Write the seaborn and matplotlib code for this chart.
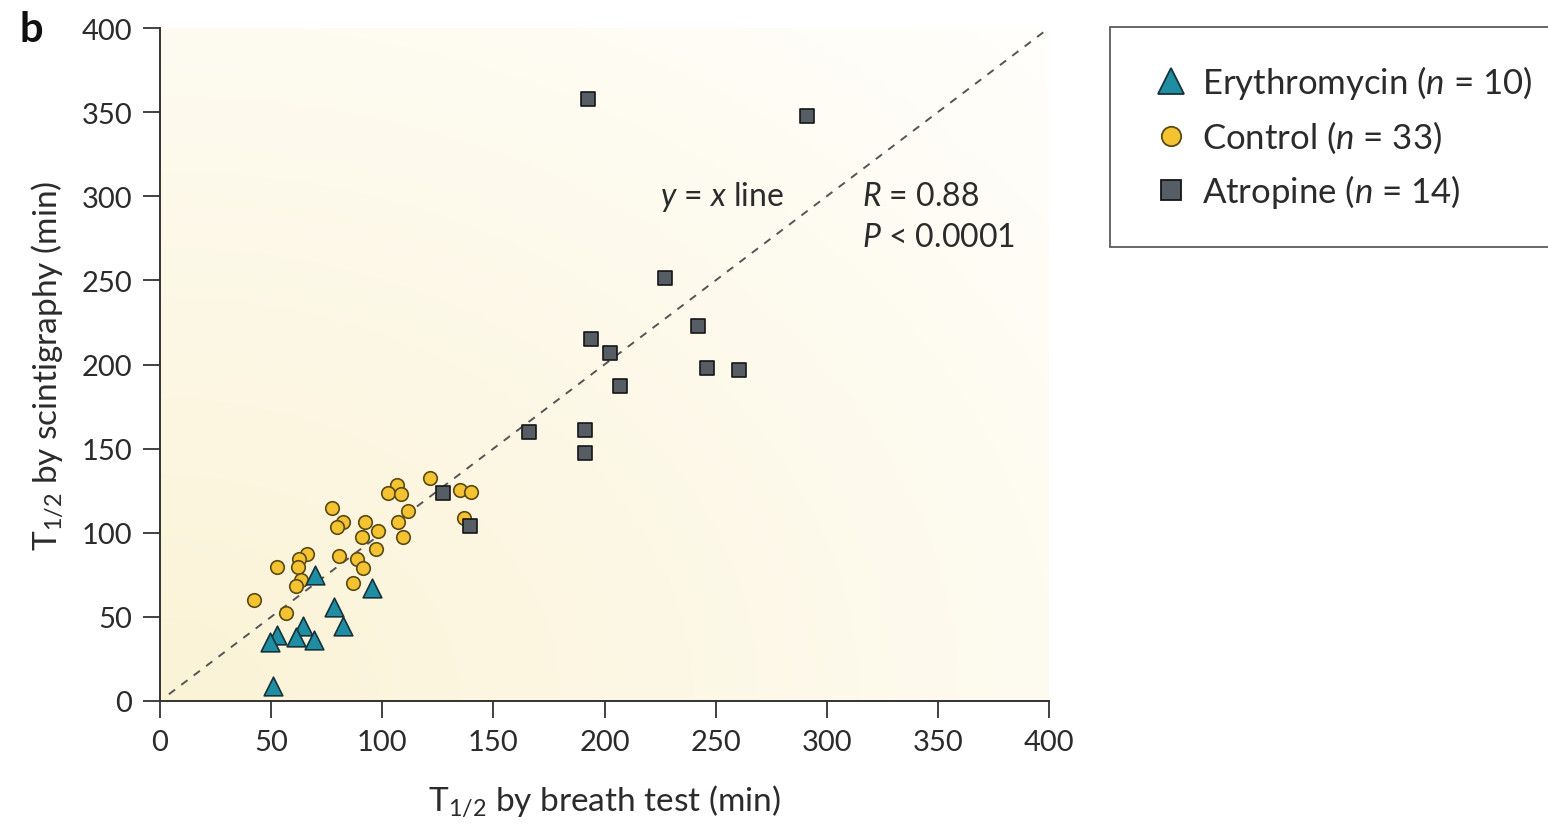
import numpy as np
import pandas as pd
import matplotlib
matplotlib.use("Agg")
import matplotlib.pyplot as plt
import seaborn as sns

# ---- data ----
ery_x = [69.7, 95.2, 78.3, 82.2, 64.2, 52.8, 49.5, 61.0, 69.3, 51.0]
ery_y = [74.9, 67.0, 56.1, 44.8, 44.8, 39.4, 34.9, 37.8, 36.3, 9.1]

ctl_x = [121.5, 106.5, 102.7, 108.3, 135.0, 139.8, 136.9, 77.2, 82.5, 79.8,
         92.2, 111.7, 107.2, 98.2, 91.0, 109.5, 97.0, 66.0, 62.7, 52.8,
         62.2, 80.7, 88.5, 91.5, 63.3, 61.0, 86.7, 42.3, 56.7]
ctl_y = [132.4, 128.4, 123.6, 123.0, 125.6, 124.4, 108.8, 114.5, 106.2, 103.2,
         106.6, 113.1, 106.6, 101.0, 97.3, 97.3, 90.3, 87.4, 84.4, 79.8,
         79.4, 86.4, 84.4, 79.0, 71.9, 68.2, 70.1, 60.0, 52.3]

atr_x = [192.7, 291.0, 227.2, 241.9, 193.9, 202.5, 246.3, 260.5, 207.0, 166.2,
         191.2, 191.2, 127.2, 139.5]
atr_y = [357.8, 347.9, 251.4, 223.1, 215.2, 206.8, 197.7, 196.7, 187.4, 159.7,
         161.3, 147.2, 123.6, 104.2]

groups = ["Erythromycin", "Control", "Atropine"]
counts = [10, 33, 14]
ticks = [0, 50, 100, 150, 200, 250, 300, 350, 400]

# ---- style ----
sns.set_style("ticks")
plt.rcParams["font.family"] = ["Lato", "DejaVu Sans"]
plt.rcParams["mathtext.fontset"] = "custom"
plt.rcParams["mathtext.rm"] = "Lato"
plt.rcParams["mathtext.it"] = "Lato:italic"
plt.rcParams["mathtext.bf"] = "Lato:bold"

txt = "#2b2b2b"
fig = plt.figure(figsize=(15.48, 8.29), dpi=100)
ax = fig.add_axes([160 / 1548, 1 - 702 / 829, 889 / 1548, 673 / 829])

# background gradient (light yellow at lower-left fading to white)
gx, gy = np.meshgrid(np.linspace(0, 1, 300), np.linspace(0, 1, 300))
d = np.clip(np.sqrt(gx ** 2 + gy ** 2) / 1.35, 0, 1)
c0 = np.array([251, 243, 214]) / 255.0
c1 = np.array([255, 254, 250]) / 255.0
img = c0[None, None, :] * (1 - d[..., None]) + c1[None, None, :] * d[..., None]
ax.imshow(img, extent=[0, 400, 0, 400], origin="lower", aspect="auto", zorder=0)

# y = x line
ax.plot([4, 400], [4, 400], ls=(0, (4, 4)), color="#555555", lw=1.4, zorder=1)

df = pd.concat([
    pd.DataFrame({"x": ery_x, "y": ery_y, "g": groups[0]}),
    pd.DataFrame({"x": ctl_x, "y": ctl_y, "g": groups[1]}),
    pd.DataFrame({"x": atr_x, "y": atr_y, "g": groups[2]}),
])

styles = {
    "Erythromycin": dict(marker="^", s=180, color="#1f8ea3", edgecolor="#17323a", lm=19),
    "Control": dict(marker="o", s=95, color="#f5c331", edgecolor="#5a4a14", lm=14),
    "Atropine": dict(marker="s", s=105, color="#565d65", edgecolor="#141618", lm=15),
}
order = ["Control", "Erythromycin", "Atropine"]
handles = {}
for g in order:
    sub = df[df.g == g]
    st = styles[g]
    sns.scatterplot(data=sub, x="x", y="y", ax=ax, marker=st["marker"], s=st["s"],
                    color=st["color"], edgecolor=st["edgecolor"], linewidth=1.2,
                    zorder=3, legend=False)
    handles[g] = plt.Line2D([], [], ls="none", marker=st["marker"],
                            markersize=st["lm"],
                            markerfacecolor=st["color"], markeredgecolor=st["edgecolor"],
                            markeredgewidth=1.3)

ax.set_xlim(0, 400)
ax.set_ylim(0, 400)
ax.set_xticks(ticks)
ax.set_yticks(ticks)
ax.tick_params(direction="out", length=12, width=1.3, color="#333333",
               labelsize=21, labelcolor=txt, pad=8)
for side in ["top", "right"]:
    ax.spines[side].set_visible(False)
for side in ["left", "bottom"]:
    ax.spines[side].set_color("#333333")
    ax.spines[side].set_linewidth(1.4)

ax.set_xlabel(r"T$_{1/2}$ by breath test (min)", fontsize=24, color=txt, labelpad=20)
ax.set_ylabel(r"T$_{1/2}$ by scintigraphy (min)", fontsize=24, color=txt, labelpad=12)

ax.text(225, 300, r"$\mathit{y}$ = $\mathit{x}$ line", fontsize=23, color=txt,
        va="center", ha="left")
ax.text(316, 300, r"$\mathit{R}$ = 0.88", fontsize=23, color=txt, va="center", ha="left")
ax.text(316, 276, r"$\mathit{P}$ < 0.0001", fontsize=23, color=txt, va="center", ha="left")

fig.text(20 / 1548, 1 - 30 / 829, "b", fontsize=30, fontweight="bold", color="#111111",
         va="center", ha="left")

labels = [rf"{g} ($\mathit{{n}}$ = {n})" for g, n in zip(groups, counts)]
leg = fig.legend([handles[g] for g in groups], labels,
                 loc="upper left", bbox_to_anchor=(1110 / 1548, 1 - 28 / 829),
                 fontsize=25, frameon=True, fancybox=False, edgecolor="#333333",
                 borderpad=1.05, labelspacing=0.5, handletextpad=0.2,
                 handlelength=1.4, borderaxespad=0)
leg.get_frame().set_linewidth(1.3)
for t in leg.get_texts():
    t.set_color(txt)

fig.savefig("out.png", dpi=100)
